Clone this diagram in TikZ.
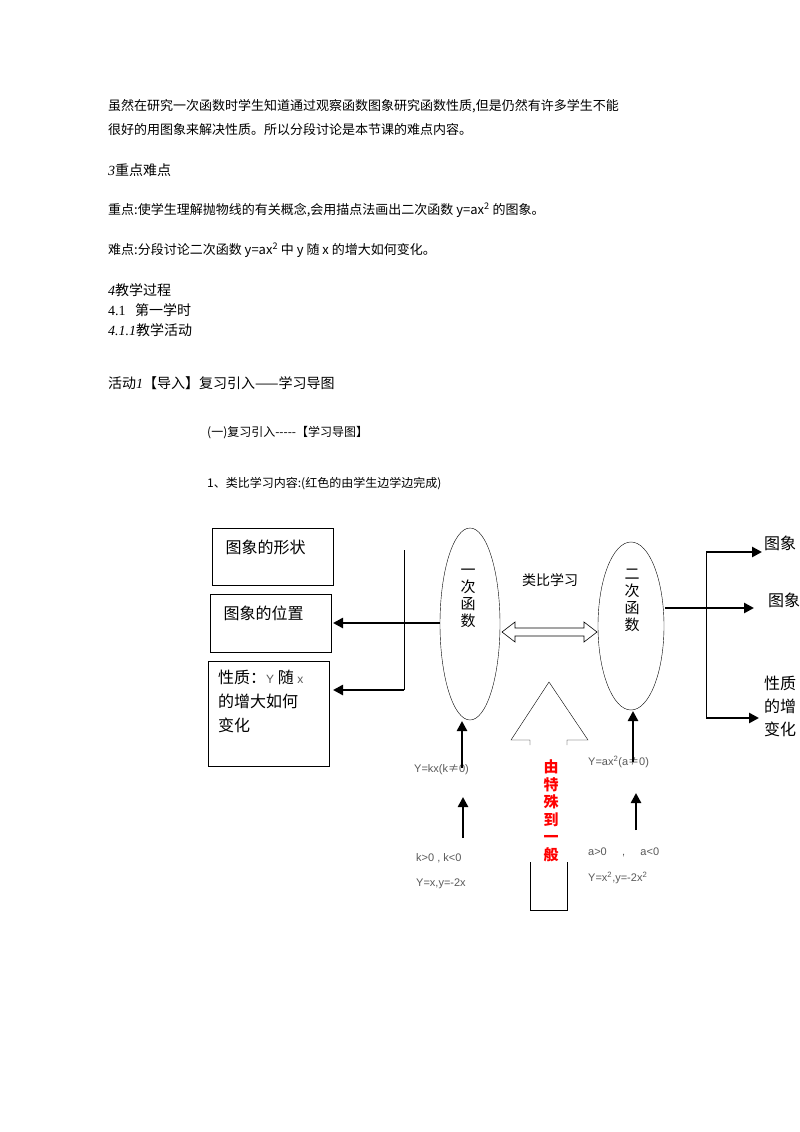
\documentclass[tikz,border=0pt]{standalone}
\usepackage{fontspec}
\setmainfont{Liberation Serif}
\newfontfamily\cjk{Noto Sans CJK SC}
\newfontfamily\lab{Liberation Sans}
\usetikzlibrary{arrows.meta,shapes.geometric}
\tikzset{
  body/.style={anchor=west,inner sep=0pt,font=\cjk\fontsize{13}{15}\selectfont},
  boxtxt/.style={font=\cjk\fontsize{16}{24}\selectfont},
  oval/.style={draw,ellipse,thin},
  small/.style={anchor=west,inner sep=0pt,text=gray!70!black,font=\lab\fontsize{11}{13}\selectfont},
  big/.style={-{Triangle[length=10pt,width=10pt]},line width=2.5pt},
}
\begin{document}
\begin{tikzpicture}[x=1pt,y=-1pt]
\useasboundingbox[fill=white] (0,0) rectangle (800,1132);
% text of the page
\node[body] (p1) at (108,106) {虽然在研究一次函数时学生知道通过观察函数图象研究函数性质,但是仍然有许多学生不能};
\node[body] (p2) at (108,130) {很好的用图象来解决性质。所以分段讨论是本节课的难点内容。};
\node[body,font=\cjk\fontsize{14}{16}\selectfont] (h3) at (108,170) {{\rmfamily\itshape 3}重点难点};
\node[body] (p3) at (108,210) {重点:使学生理解抛物线的有关概念,会用描点法画出二次函数 y=ax\textsuperscript{2} 的图象。};
\node[body] (p4) at (108,250) {难点:分段讨论二次函数 y=ax\textsuperscript{2} 中 y 随 x 的增大如何变化。};
\node[body,font=\cjk\fontsize{14}{16}\selectfont] (h4) at (108,290) {{\rmfamily\itshape 4}教学过程};
\node[body,font=\cjk\fontsize{14}{16}\selectfont] (h41) at (108,310) {{\rmfamily 4.1}\ \ \ 第一学时};
\node[body,font=\cjk\fontsize{14}{16}\selectfont] (h411) at (108,330) {{\rmfamily\itshape 4.1.1}教学活动};
\node[body,font=\cjk\fontsize{14}{16}\selectfont] (act) at (108,383) {活动{\rmfamily\itshape 1}【导入】复习引入——学习导图};
\node[body,font=\cjk\fontsize{12}{14}\selectfont] (sub) at (207,433) {(一)复习引入-----【学习导图】};
\node[body,font=\cjk\fontsize{12}{14}\selectfont] (one) at (207,484) {1、类比学习内容:(红色的由学生边学边完成)};
% left boxes
\draw[thick] (212,528) rectangle (333,585);
\draw[thick] (210,594) rectangle (331,652);
\draw[thick] (208,661) rectangle (329,766);
\node[boxtxt,anchor=west] (shape) at (222,547) {图象的形状};
\node[boxtxt,anchor=west] (pos) at (220,613) {图象的位置};
\node[boxtxt,anchor=north west,align=left,inner sep=0pt] (prop) at (218,670) {性质：{\lab\fontsize{12}{14}\selectfont\color{gray!70!black}Y} 随 {\lab\fontsize{12}{14}\selectfont\color{gray!70!black}x}\\的增大如何\\变化};
\coordinate (b2) at (333,623);
\coordinate (b3) at (333,690);
% ellipses
\node[oval,minimum width=60pt,minimum height=192pt] (lin) at (470,624) {};
\node[oval,minimum width=66pt,minimum height=168pt] (quad) at (631,626) {};
\node[font=\cjk\fontsize{15}{17}\selectfont,align=center] (lint) at (468,598) {一\\次\\函\\数};
\node[font=\cjk\fontsize{15}{17}\selectfont,align=center] (quadt) at (632,600) {二\\次\\函\\数};
\node[font=\cjk\fontsize{14}{16}\selectfont] (ana) at (550,580) {类比学习};
% left connectors
\coordinate (vt) at (404,550);
\coordinate (vb) at (404,690);
\coordinate (le) at (440,623);
\draw[thick] (vt) -- (vb);
\draw[big] (le) -- (b2);
\draw[big] (vb) -- (b3);
% double hollow arrow
\draw[semithick,fill=white] (502,632) -- (515,622) -- (515,628) -- (584,628) -- (584,622) -- (597,632)
  -- (584,642) -- (584,636) -- (515,636) -- (515,642) -- cycle;
% right connectors
\coordinate (rt) at (706,552);
\coordinate (rb) at (706,718);
\coordinate (re) at (665,608);
\draw[thick] (rt) -- (rb);
\draw[big] (rt) -- (762,552);
\draw[big] (re) -- (754,608);
\draw[big] (rb) -- (759,718);
\node[body,font=\cjk\fontsize{16}{18}\selectfont] (r1) at (764,543) {图象};
\node[body,font=\cjk\fontsize{16}{18}\selectfont] (r2) at (768,600) {图象};
\node[anchor=north west,inner sep=0pt,align=left,font=\cjk\fontsize{16}{23}\selectfont] (r3) at (764,676) {性质\\的增\\变化};
% hollow up arrow
\draw[thin] (530,745) -- (530,740) -- (511,740) -- (549,682) -- (588,740) -- (567,740) -- (567,745);
\draw[thin] (530,862) -- (530,910) -- (567,910) -- (567,862);
\node[font=\cjk\fontsize{15}{17.5}\selectfont\bfseries,text=red,align=center] (gen) at (551,811) {由\\特\\殊\\到\\一\\般};
% bottom left
\node[small] (kx) at (414,770) {Y=kx(k{\cjk ≠}0)};
\node[small] (k1) at (416,858) {k>0 , k<0};
\node[small] (k2) at (416,884) {Y=x,y=-2x};
\coordinate (a1) at (462,768);
\coordinate (a1t) at (462,721);
\coordinate (a2) at (463,838);
\coordinate (a2t) at (463,797);
\draw[big] (a1) -- (a1t);
\draw[big] (a2) -- (a2t);
% bottom right
\node[small] (ax) at (588,762) {Y=ax\textsuperscript{2}(a{\cjk ≠}0)};
\node[small] (q1) at (588,852) {a>0\ \ \ \ \ ,\ \ \ \ \ a<0};
\node[small] (q2) at (588,878) {Y=x\textsuperscript{2},y=-2x\textsuperscript{2}};
\coordinate (c1) at (633,762);
\coordinate (c1t) at (633,711);
\coordinate (c2) at (636,830);
\coordinate (c2t) at (636,793);
\draw[big] (c1) -- (c1t);
\draw[big] (c2) -- (c2t);
\end{tikzpicture}
\end{document}
